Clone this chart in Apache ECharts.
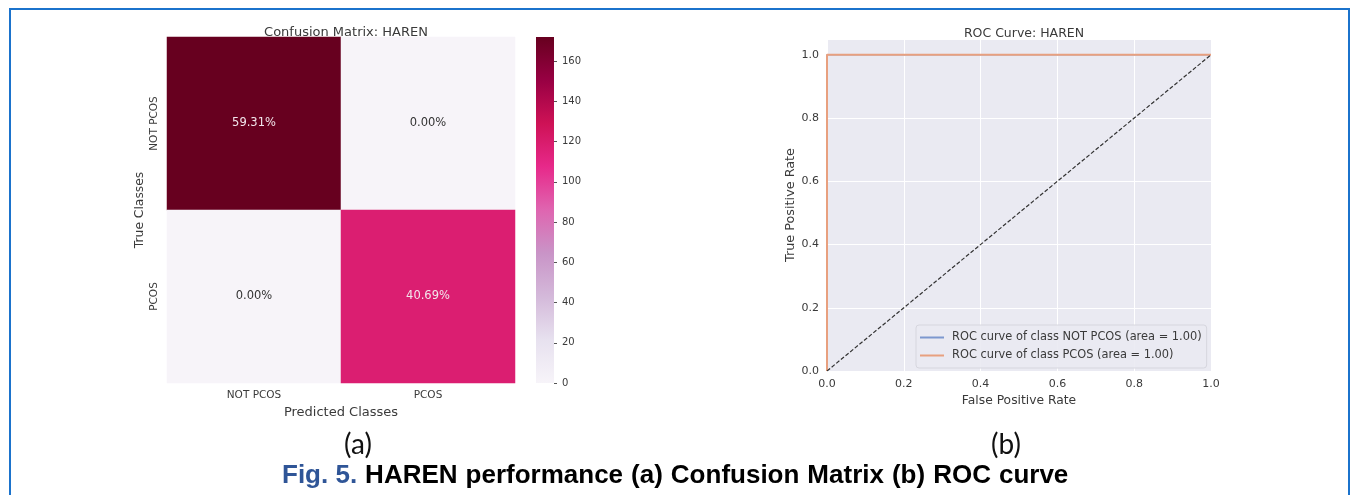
<!DOCTYPE html>
<html>
<head>
<meta charset="utf-8">
<script src="https://cdn.jsdelivr.net/npm/echarts@6/dist/echarts.min.js"></script>
<style>
html,body{margin:0;padding:0;background:#fff;}
#chart{width:1352px;height:495px;}
</style>
</head>
<body>
<div id="chart"></div>
<script>
// ---- data ----
const classes = ['NOT PCOS', 'PCOS'];
const cmRowNotPcos = [172, 0];
const cmRowPcos = [0, 118];
const colorbarTicks = [0, 20, 40, 60, 80, 100, 120, 140, 160];
const cbMax = 172;
const rocNotPcosX = [0, 0, 1];
const rocNotPcosY = [0, 1, 1];
const rocPcosX = [0, 0, 1];
const rocPcosY = [0, 1, 1];
const chanceX = [0, 1];
const chanceY = [0, 1];
const aucNotPcos = 1.00;
const aucPcos = 1.00;
const rocTicks = [0, 0.2, 0.4, 0.6, 0.8, 1.0];
const captionWords = ['HAREN', 'performance', '(a)', 'Confusion', 'Matrix', '(b)', 'ROC', 'curve'];

const PuRd = ['#f7f4f9','#e7e1ef','#d4b9da','#c994c7','#df65b0','#e7298a','#ce1256','#980043','#67001f'];
const FONT = 'DejaVu Sans';
const TXT = '#3a3a3a';

const matrix = [cmRowNotPcos, cmRowPcos];
const total = matrix.flat().reduce((a, b) => a + b, 0);
const heatData = [];
matrix.forEach((row, r) => row.forEach((v, c) => {
  heatData.push({
    value: [c, r, v],
    label: { color: v > cbMax / 2 ? '#f2e6ec' : '#333333' }
  });
}));
const zip = (xs, ys) => xs.map((x, i) => [x, ys[i]]);

const chart = echarts.init(document.getElementById('chart'));
const gradStops = PuRd.map((c, i) => ({ offset: i / (PuRd.length - 1), color: c }));
const captionRich = '{a|Fig. 5.}' + captionWords.map(w => '{s| }{b|' + w + '}').join('');

chart.setOption({
  animation: false,
  backgroundColor: '#ffffff',
  textStyle: { fontFamily: FONT },
  title: [
    { text: 'Confusion Matrix: HAREN', left: 341, top: 21, textAlign: 'center',
      textStyle: { fontFamily: FONT, fontSize: 13, fontWeight: 'normal', color: TXT } },
    { text: 'ROC Curve: HAREN', left: 1019, top: 22, textAlign: 'center',
      textStyle: { fontFamily: FONT, fontSize: 12.5, fontWeight: 'normal', color: TXT } }
  ],
  grid: [
    { left: 167, top: 37, width: 348, height: 346, show: false },
    { left: 536, top: 37, width: 18, height: 346, show: false },
    { left: 827, top: 39, width: 384, height: 332, show: true, backgroundColor: '#eaeaf2', borderWidth: 0 }
  ],
  xAxis: [
    { gridIndex: 0, type: 'category', data: classes,
      axisLine: { show: false }, axisTick: { show: false },
      axisLabel: { fontFamily: FONT, fontSize: 10.5, color: TXT, margin: 7 },
      name: 'Predicted Classes', nameLocation: 'middle', nameGap: 18,
      nameTextStyle: { fontFamily: FONT, fontSize: 13, color: TXT } },
    { gridIndex: 1, type: 'category', data: ['cb'], show: false },
    { gridIndex: 2, type: 'value', min: 0, max: 1, interval: 0.2,
      axisLine: { show: false }, axisTick: { show: false },
      splitLine: { show: true, lineStyle: { color: '#ffffff', width: 1 } },
      axisLabel: { fontFamily: FONT, fontSize: 11, color: TXT, margin: 8,
        formatter: v => v.toFixed(1) },
      name: 'False Positive Rate', nameLocation: 'middle', nameGap: 22,
      nameTextStyle: { fontFamily: FONT, fontSize: 12.3, color: TXT } }
  ],
  yAxis: [
    { gridIndex: 0, type: 'category', data: classes, inverse: true,
      axisLine: { show: false }, axisTick: { show: false },
      axisLabel: { fontFamily: FONT, fontSize: 10.5, color: TXT, rotate: 90, margin: 7 },
      name: 'True Classes', nameLocation: 'middle', nameGap: 21, nameRotate: 90,
      nameTextStyle: { fontFamily: FONT, fontSize: 12.3, color: TXT } },
    { gridIndex: 1, type: 'value', min: 0, max: cbMax, interval: 20, position: 'right',
      axisLine: { show: false },
      axisTick: { show: true, length: 3, lineStyle: { color: '#555' } },
      splitLine: { show: false },
      axisLabel: { fontFamily: FONT, fontSize: 10, color: TXT, margin: 8, showMaxLabel: false,
        formatter: v => colorbarTicks.includes(v) ? String(v) : '' } },
    { gridIndex: 2, type: 'value', min: 0, max: 1.05, interval: 0.2,
      axisLine: { show: false }, axisTick: { show: false },
      splitLine: { show: true, lineStyle: { color: '#ffffff', width: 1 } },
      axisLabel: { fontFamily: FONT, fontSize: 11, color: TXT, margin: 8, showMaxLabel: false,
        formatter: v => rocTicks.some(t => Math.abs(t - v) < 1e-9) ? v.toFixed(1) : '' },
      name: 'True Positive Rate', nameLocation: 'middle', nameGap: 30, nameRotate: 90,
      nameTextStyle: { fontFamily: FONT, fontSize: 12.8, color: TXT } }
  ],
  visualMap: {
    show: false, type: 'continuous', seriesIndex: 0, min: 0, max: cbMax, dimension: 2,
    inRange: { color: PuRd }
  },
  legend: {
    data: ['ROC curve of class NOT PCOS (area = ' + aucNotPcos.toFixed(2) + ')',
           'ROC curve of class PCOS (area = ' + aucPcos.toFixed(2) + ')'],
    orient: 'vertical', left: 916, top: 325,
    icon: 'rect', itemWidth: 24, itemHeight: 2, itemGap: 7,
    padding: [7, 5, 7, 4],
    backgroundColor: 'rgba(234,234,242,0.9)', borderColor: '#d6d6de', borderWidth: 1, borderRadius: 3,
    textStyle: { fontFamily: FONT, fontSize: 11.4, color: TXT, padding: [0, 0, 0, 3] }
  },
  series: [
    { type: 'heatmap', xAxisIndex: 0, yAxisIndex: 0, data: heatData,
      label: { show: true, fontFamily: FONT, fontSize: 11.5,
        formatter: p => (p.value[2] / total * 100).toFixed(2) + '%' },
      itemStyle: { borderWidth: 0 },
      emphasis: { disabled: true } },
    { type: 'bar', xAxisIndex: 1, yAxisIndex: 1, data: [cbMax], barWidth: '100%',
      itemStyle: { color: new echarts.graphic.LinearGradient(0, 1, 0, 0, gradStops) },
      silent: true },
    { name: 'ROC curve of class NOT PCOS (area = ' + aucNotPcos.toFixed(2) + ')',
      type: 'line', xAxisIndex: 2, yAxisIndex: 2, data: zip(rocNotPcosX, rocNotPcosY),
      showSymbol: false, lineStyle: { color: '#7d98cf', width: 1.5 }, itemStyle: { color: '#7d98cf' } },
    { name: 'ROC curve of class PCOS (area = ' + aucPcos.toFixed(2) + ')',
      type: 'line', xAxisIndex: 2, yAxisIndex: 2, data: zip(rocPcosX, rocPcosY),
      showSymbol: false, lineStyle: { color: '#e8a07f', width: 2 }, itemStyle: { color: '#e8a07f' } },
    { type: 'line', xAxisIndex: 2, yAxisIndex: 2, data: zip(chanceX, chanceY),
      showSymbol: false, silent: true,
      lineStyle: { color: '#333', width: 1.2, type: [4, 2] } }
  ],
  graphic: [
    { type: 'rect', shape: { x: 10, y: 9, width: 1339, height: 520 },
      style: { fill: 'none', stroke: '#1b73cc', lineWidth: 2 }, silent: true },
    { type: 'text', x: 358, y: 445,
      style: { text: '(a)', font: '28px Lato, "Open Sans", sans-serif', fill: '#111',
        textAlign: 'center', textVerticalAlign: 'middle' } },
    { type: 'text', x: 1006, y: 445,
      style: { text: '(b)', font: '28px Lato, "Open Sans", sans-serif', fill: '#111',
        textAlign: 'center', textVerticalAlign: 'middle' } },
    { type: 'text', left: 282, top: 463,
      style: {
        text: captionRich,
        rich: {
          a: { fontFamily: 'Liberation Sans', fontWeight: 'bold', fontSize: 26, fill: '#2f5597', color: '#2f5597' },
          b: { fontFamily: 'Liberation Sans', fontWeight: 'bold', fontSize: 26, fill: '#000', color: '#000' },
          s: { fontFamily: 'Liberation Sans', fontSize: 26, width: 8 }
        }
      } }
  ]
});
</script>
</body>
</html>
